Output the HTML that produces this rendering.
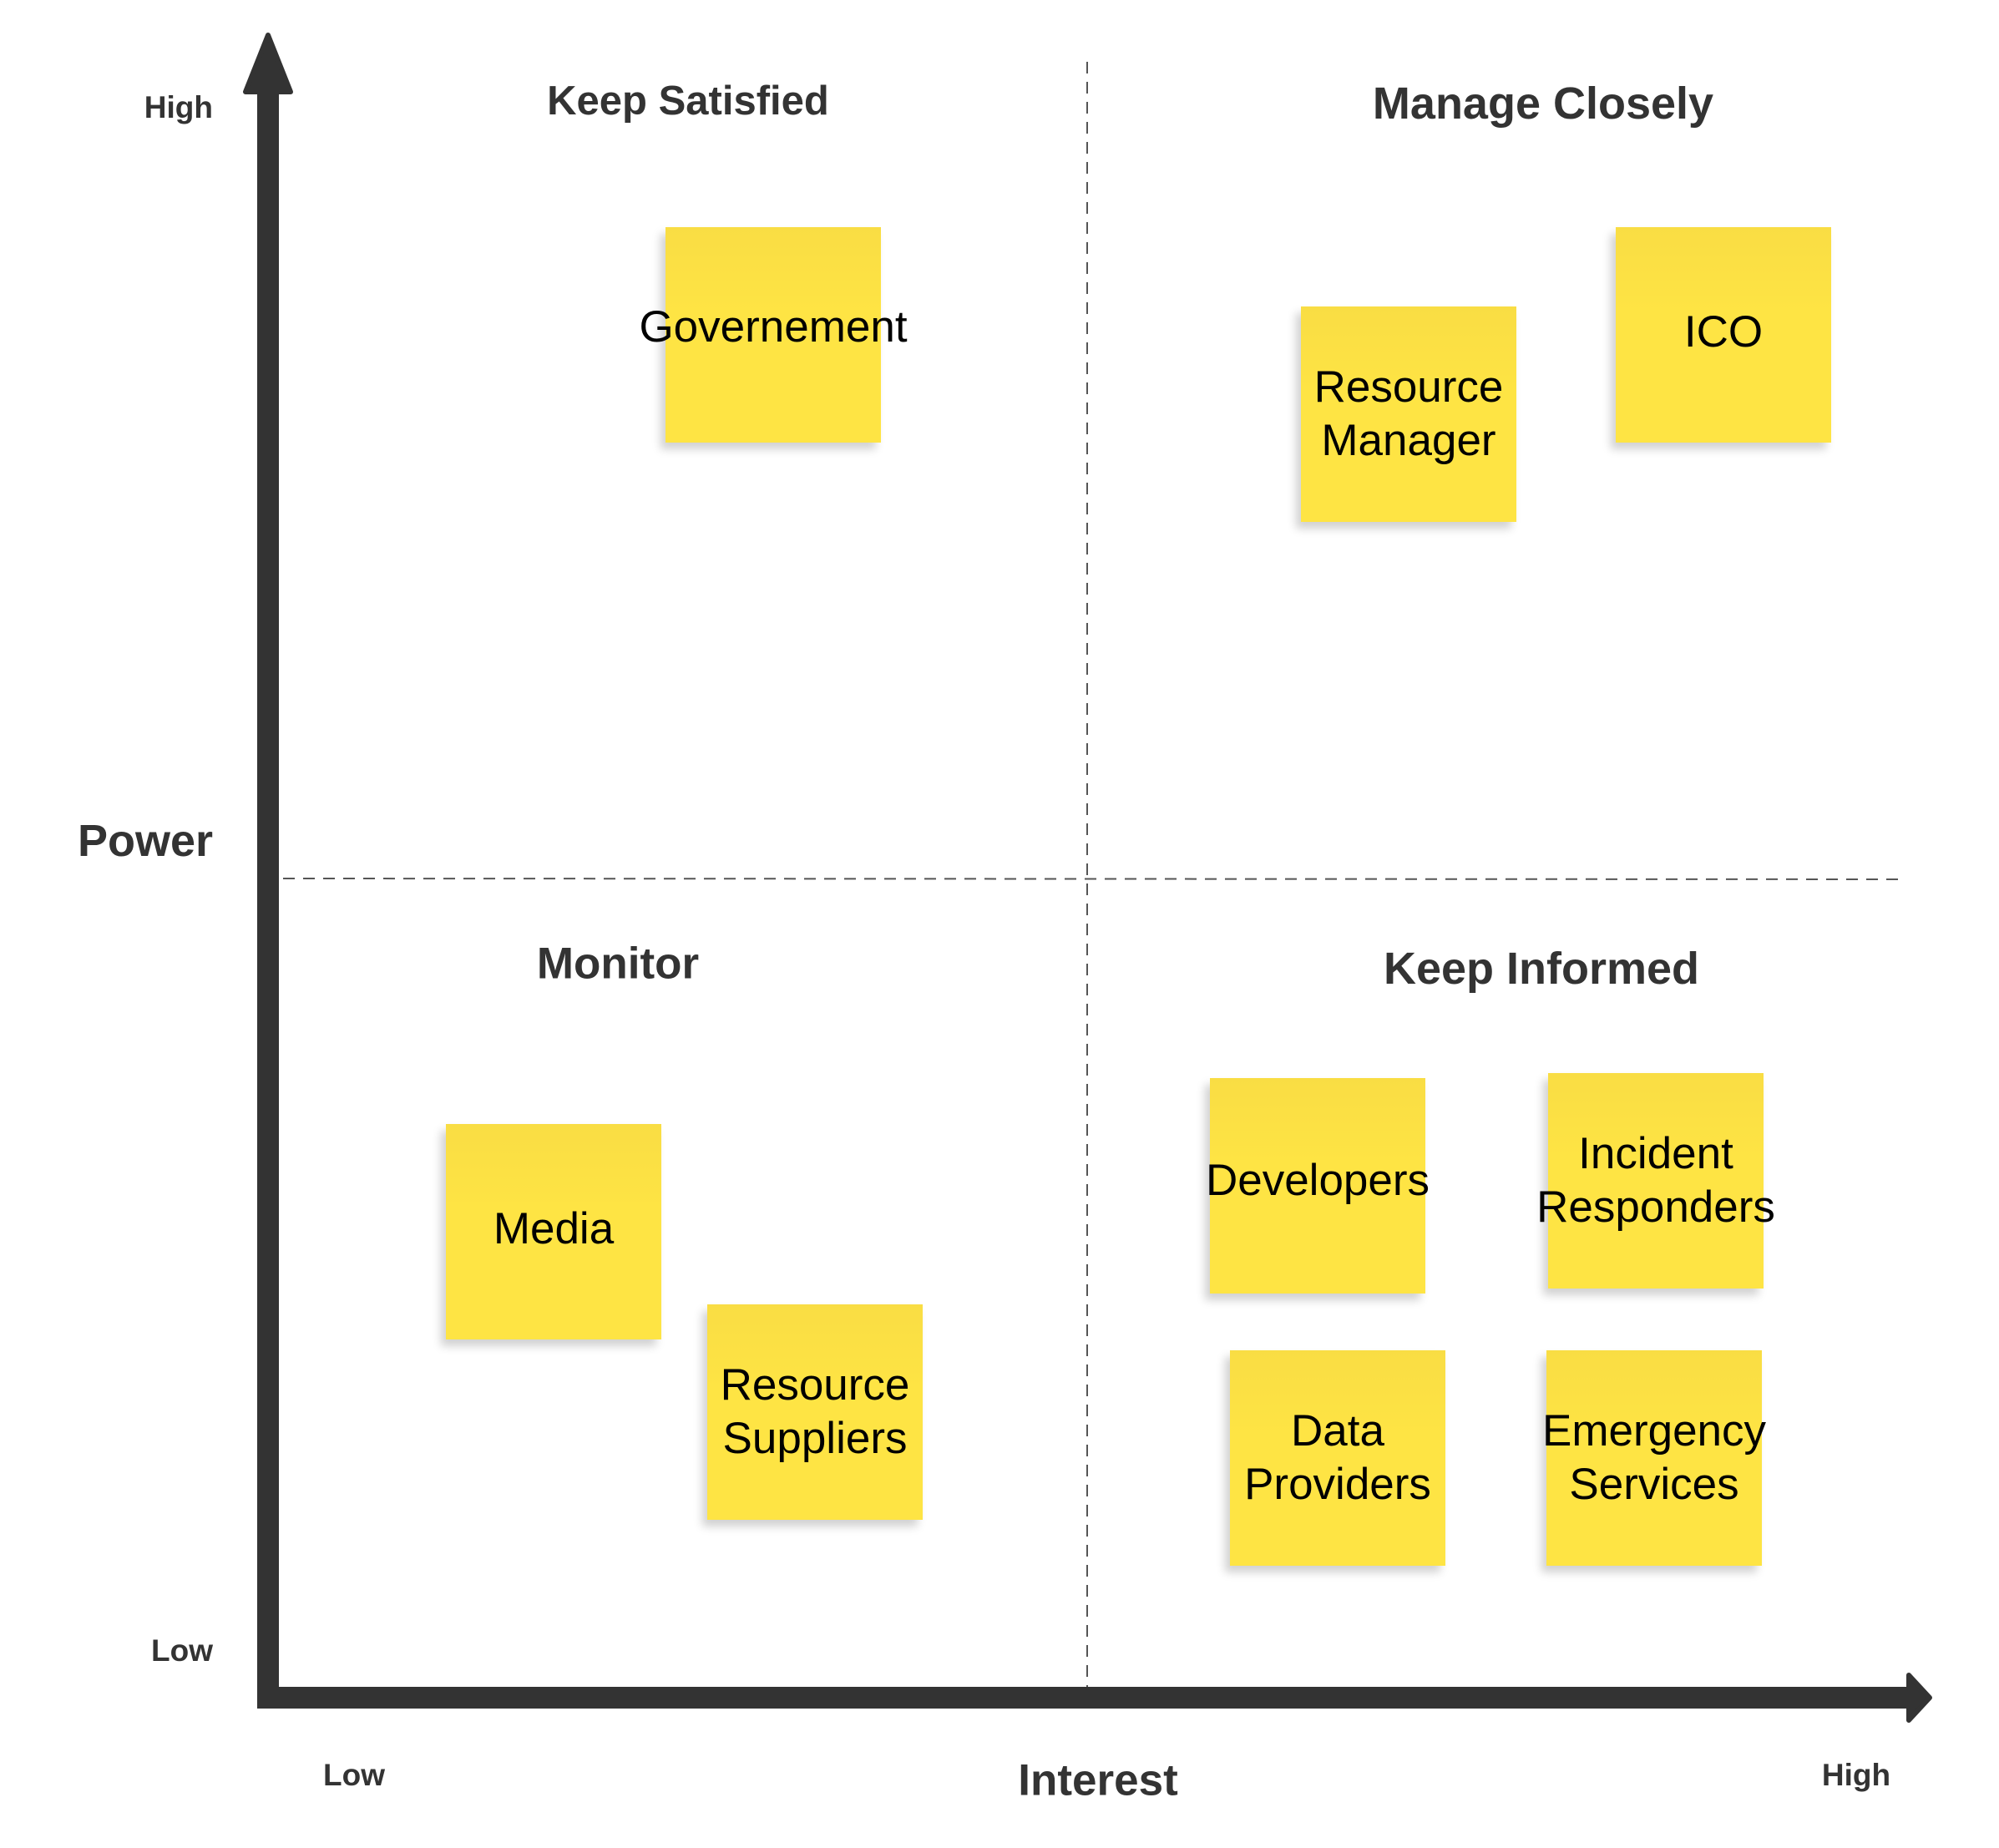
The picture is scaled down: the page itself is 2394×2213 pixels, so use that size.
<!DOCTYPE html>
<html><head><meta charset="utf-8"><style>
html,body{margin:0;padding:0;background:#fff;}
body{width:2394px;height:2213px;position:relative;overflow:hidden;font-family:"Liberation Sans",sans-serif;}
.n{position:absolute;width:258px;height:258px;background:linear-gradient(#f9dd44,#fee444 40%,#fee444);
box-shadow:-6px 8px 10px rgba(0,0,0,0.18);display:flex;align-items:center;justify-content:center;text-align:center;
font-size:53px;line-height:64px;color:#000;white-space:nowrap;}
.n span{display:block;}
.l{position:absolute;transform:translate(-50%,-50%);font-weight:bold;color:#333;white-space:nowrap;}
.r{position:absolute;transform:translateY(-50%);font-weight:bold;color:#333;white-space:nowrap;text-align:right;}
</style></head><body>
<svg width="2394" height="2213" style="position:absolute;left:0;top:0">
<line x1="1302" y1="74" x2="1302" y2="2020" stroke="#555" stroke-width="2" stroke-dasharray="14,10"/>
<line x1="339" y1="1052" x2="2282" y2="1053" stroke="#555" stroke-width="2" stroke-dasharray="14,10"/>
<rect x="308" y="110" width="26" height="1936" fill="#333"/>
<polygon points="321,42 348,110 294,110" fill="#333" stroke="#333" stroke-width="6" stroke-linejoin="round"/>
<rect x="308" y="2020" width="1985" height="26" fill="#333"/>
<polygon points="2311,2033 2286,2006 2286,2060" fill="#333" stroke="#333" stroke-width="6" stroke-linejoin="round"/>
</svg>

<div class="n" style="left:797px;top:272px;align-items:flex-start;padding-top:0"><span style="margin-top:88px">Governement</span></div>
<div class="n" style="left:1558px;top:367px"><span>Resource<br>Manager</span></div>
<div class="n" style="left:1935px;top:272px"><span style="margin-top:-6px">ICO</span></div>
<div class="n" style="left:534px;top:1346px"><span style="margin-top:-6px">Media</span></div>
<div class="n" style="left:847px;top:1562px"><span>Resource<br>Suppliers</span></div>
<div class="n" style="left:1449px;top:1291px"><span style="margin-top:-12px">Developers</span></div>
<div class="n" style="left:1854px;top:1285px"><span>Incident<br>Responders</span></div>
<div class="n" style="left:1473px;top:1617px"><span>Data<br>Providers</span></div>
<div class="n" style="left:1852px;top:1617px"><span>Emergency<br>Services</span></div>

<div class="l" style="left:824px;top:121px;font-size:49px">Keep Satisfied</div>
<div class="l" style="left:1848px;top:124px;font-size:54px">Manage Closely</div>
<div class="l" style="left:740px;top:1154px;font-size:53px">Monitor</div>
<div class="l" style="left:1846px;top:1160px;font-size:54px">Keep Informed</div>
<div class="r" style="right:2139px;top:1007px;font-size:54px">Power</div>
<div class="r" style="right:2139px;top:129px;font-size:37px">High</div>
<div class="r" style="right:2139px;top:1977px;font-size:37px">Low</div>
<div class="l" style="left:424px;top:2126px;font-size:37px">Low</div>
<div class="l" style="left:1315px;top:2132px;font-size:53px">Interest</div>
<div class="l" style="left:2223px;top:2126px;font-size:37px">High</div>
</body></html>
